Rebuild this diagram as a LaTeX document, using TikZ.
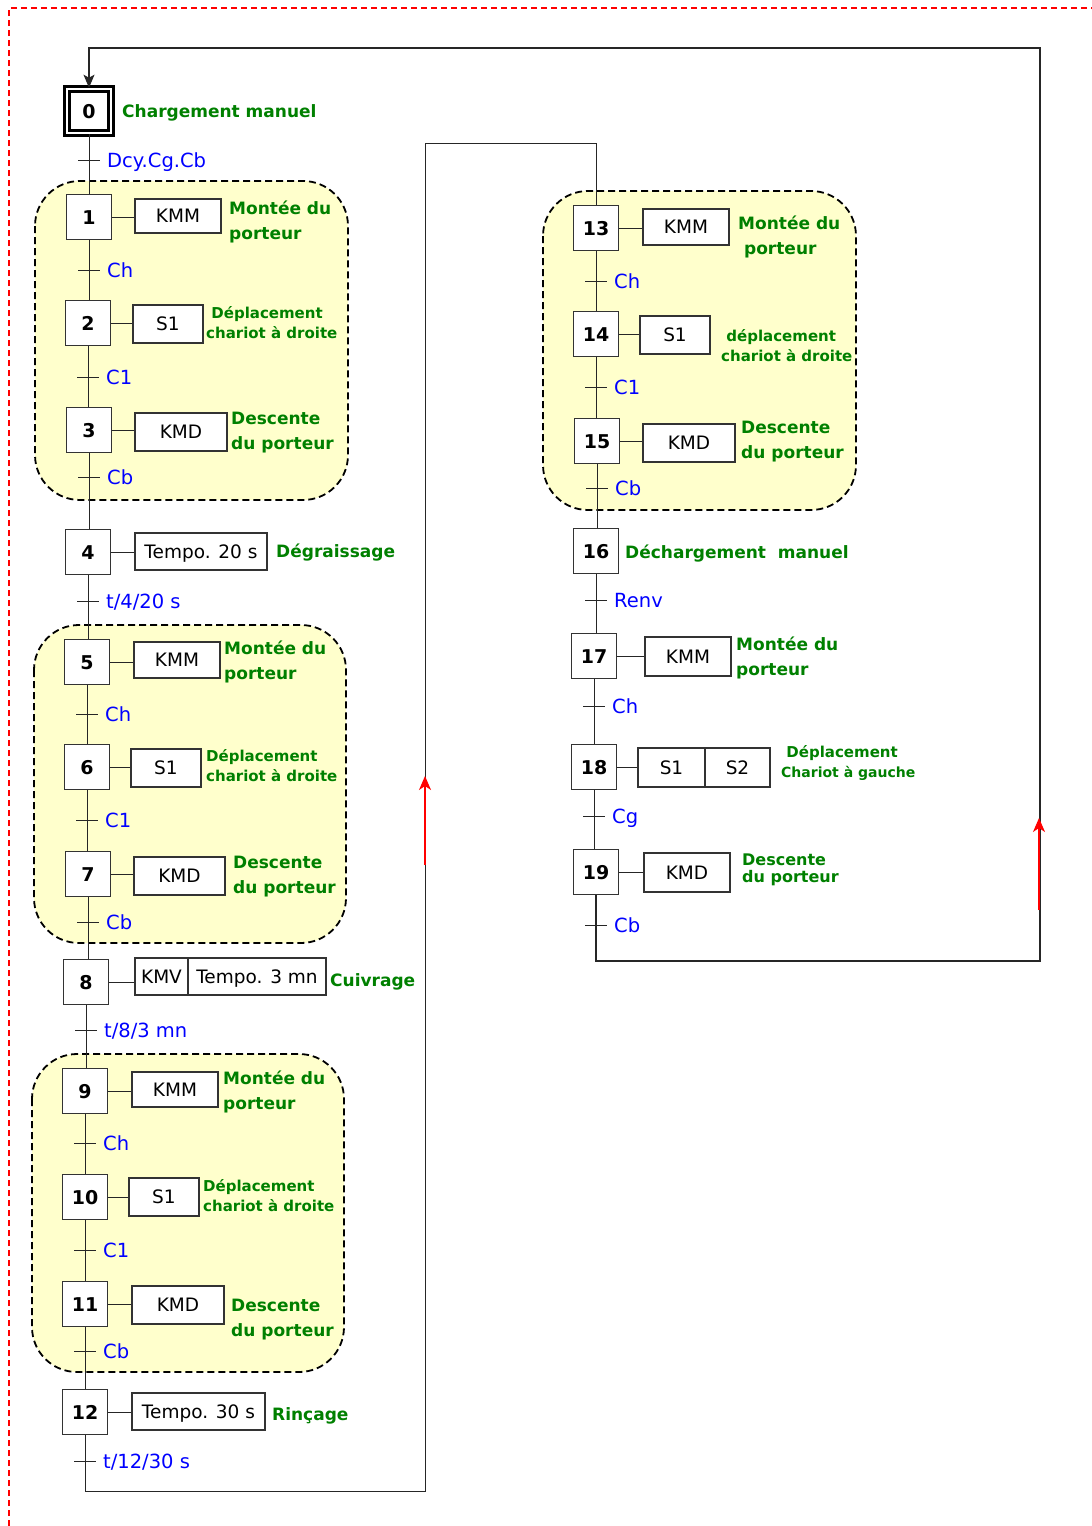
\documentclass[tikz,border=0pt]{standalone}
\usepackage{fontspec}
\setmainfont{DejaVu Sans}
\usetikzlibrary{arrows.meta,calc}
\definecolor{grn}{RGB}{0,128,0}
\definecolor{blu}{RGB}{0,0,255}
\definecolor{yel}{RGB}{255,255,204}
\newcommand{\grtr}[4]{%
  \coordinate (#1) at (#2,#3);
  \draw[link] ([xshift=-11pt]#1) -- ([xshift=11pt]#1);
  \node[blab] (#1l) at ([xshift=18pt]#1) {#4};}
\begin{document}
\begin{tikzpicture}[x=1pt,y=-1pt,
 stepbox/.style={draw=black!80, line width=1.5pt, fill=white, minimum width=45pt, minimum height=45pt, inner sep=0pt, text height=14pt, text depth=0pt, font=\fontsize{19}{20}\selectfont\bfseries},
 initstep/.style={stepbox, draw=black, line width=2.6pt, double, double distance=2.4pt, minimum width=44pt, minimum height=44pt},
 actbox/.style={draw=black!80, line width=1.3pt, fill=white, inner sep=0pt, text height=13.5pt, text depth=0pt, font=\fontsize{18.5}{20}\selectfont},
 glab/.style={text=grn, font=\fontsize{17}{25}\selectfont\bfseries, align=left, anchor=west, inner sep=0pt},
 gsmall/.style={text=grn, font=\fontsize{15}{20}\selectfont\bfseries, align=left, anchor=west, inner sep=0pt},
 blab/.style={text=blu, font=\fontsize{19.5}{20}\selectfont, anchor=west, inner sep=0pt, text height=14pt, text depth=0pt},
 link/.style={draw=black!85, line width=1pt},
 grp/.style={draw=black, dash pattern=on 7pt off 4pt, line width=1.8pt, fill=yel, rounded corners=45pt},
 redarrow/.style={draw=red, line width=1.6pt, -{Stealth[length=14pt,width=12pt,inset=4pt]}},
]
\useasboundingbox (0,0) rectangle (1092,1526);
% page frame
\draw[red, line width=1.3pt, dash pattern=on 6pt off 4pt] (9,1526) -- (9,8) -- (1092,8);

% groups
\draw[grp] (35,181) rectangle (348,500);
\draw[grp] (34,625) rectangle (346,943);
\draw[grp] (32,1054) rectangle (344,1372);
\draw[grp] (543,191) rectangle (856,510);

% steps left column
\node[initstep] (s0) at (89,111) {0};
\node[stepbox] (s1) at (89,217) {1};
\node[stepbox] (s2) at (88,323) {2};
\node[stepbox] (s3) at (89,430) {3};
\node[stepbox] (s4) at (88,552) {4};
\node[stepbox] (s5) at (87,662) {5};
\node[stepbox] (s6) at (87,767) {6};
\node[stepbox] (s7) at (88,874) {7};
\node[stepbox] (s8) at (86,982) {8};
\node[stepbox] (s9) at (85,1091) {9};
\node[stepbox] (s10) at (85,1197) {10};
\node[stepbox] (s11) at (85,1304) {11};
\node[stepbox] (s12) at (85,1412) {12};
% steps right column
\node[stepbox] (s13) at (596,228) {13};
\node[stepbox] (s14) at (596,334) {14};
\node[stepbox] (s15) at (597,441) {15};
\node[stepbox] (s16) at (596,551) {16};
\node[stepbox] (s17) at (594,656) {17};
\node[stepbox] (s18) at (594,767) {18};
\node[stepbox] (s19) at (596,872) {19};

% links between steps
\foreach \a/\b in {s0/s1,s1/s2,s2/s3,s3/s4,s4/s5,s5/s6,s6/s7,s7/s8,s8/s9,s9/s10,s10/s11,s11/s12,s13/s14,s14/s15,s15/s16,s16/s17,s17/s18,s18/s19}
  \draw[link] (\a.south) -- (\a.south |- \b.north);

% actions
\node[actbox, minimum width=86pt, minimum height=34pt] (a1) at (178,216) {KMM};
\node[actbox, minimum width=70pt, minimum height=38pt] (a2) at (168,324) {S1};
\node[actbox, minimum width=92pt, minimum height=38pt] (a3) at (181,432) {KMD};
\node[actbox, minimum width=132pt, minimum height=37pt] (a4) at (201,551.5) {Tempo. 20 s};
\node[actbox, minimum width=86pt, minimum height=36pt] (a5) at (177,660) {KMM};
\node[actbox, minimum width=70pt, minimum height=38pt] (a6) at (166,768) {S1};
\node[actbox, minimum width=91pt, minimum height=38pt] (a7) at (179.5,876) {KMD};
\node[actbox, minimum width=53pt, minimum height=37pt] (a8a) at (161.5,976.5) {KMV};
\node[actbox, minimum width=138pt, minimum height=37pt] (a8b) at (257,976.5) {Tempo. 3 mn};
\node[actbox, minimum width=86pt, minimum height=35pt] (a9) at (175,1089.5) {KMM};
\node[actbox, minimum width=70pt, minimum height=38pt] (a10) at (164,1197) {S1};
\node[actbox, minimum width=92pt, minimum height=38pt] (a11) at (178,1305) {KMD};
\node[actbox, minimum width=133pt, minimum height=37pt] (a12) at (198.5,1411.5) {Tempo. 30 s};
\node[actbox, minimum width=86pt, minimum height=36pt] (a13) at (686,227) {KMM};
\node[actbox, minimum width=70pt, minimum height=38pt] (a14) at (675,335) {S1};
\node[actbox, minimum width=92pt, minimum height=38pt] (a15) at (689,443) {KMD};
\node[actbox, minimum width=86pt, minimum height=39pt] (a17) at (688,656.5) {KMM};
\node[actbox, minimum width=67pt, minimum height=39pt] (a18a) at (671.5,767.5) {S1};
\node[actbox, minimum width=65pt, minimum height=39pt] (a18b) at (737.5,767.5) {S2};
\node[actbox, minimum width=86pt, minimum height=39pt] (a19) at (687,872.5) {KMD};

% step-to-action links
\foreach \s/\a in {s1/a1,s2/a2,s3/a3,s4/a4,s5/a5,s6/a6,s7/a7,s8/a8a,s9/a9,s10/a10,s11/a11,s12/a12,s13/a13,s14/a14,s15/a15,s17/a17,s18/a18a,s19/a19}
  \draw[link] (\s.east) -- (\s.east -| \a.west);

% green labels
\node[glab] (g0) at (122,113) {Chargement manuel};
\node[glab] (g1) at (229,222) {Montée du\\porteur};
\node[gsmall] (g2) at (206,323) {\ Déplacement\\chariot à droite};
\node[glab] (g3) at (231,433) {Descente\\du porteur};
\node[glab] (g4) at (276,553) {Dégraissage};
\node[glab] (g5) at (224,662) {Montée du\\porteur};
\node[gsmall] (g6) at (206,766) {Déplacement\\chariot à droite};
\node[glab] (g7) at (233,877) {Descente\\du porteur};
\node[glab] (g8) at (330,982) {Cuivrage};
\node[glab] (g9) at (223,1092) {Montée du\\porteur};
\node[gsmall] (g10) at (203,1196) {Déplacement\\chariot à droite};
\node[glab] (g11) at (231,1320) {Descente\\du porteur};
\node[glab] (g12) at (272,1416) {Rinçage};
\node[glab] (g13) at (738,237) {Montée du\\\ porteur};
\node[gsmall] (g14) at (721,346) {\ déplacement\\chariot à droite};
\node[glab] (g15) at (741,442) {Descente\\du porteur};
\node[glab] (g16) at (625,554) {Déchargement~ manuel};
\node[glab] (g17) at (736,658) {Montée du\\porteur};
\node[gsmall] (g18) at (781,763) {\ Déplacement\\{\fontsize{14}{20}\selectfont Chariot à gauche}};
\node[glab, font=\fontsize{16}{17}\selectfont\bfseries] (g19) at (742,870) {Descente\\du porteur};

% transitions
\grtr{t0}{89}{160}{Dcy.Cg.Cb}
\grtr{t1}{89}{270}{Ch}
\grtr{t2}{88}{377}{C1}
\grtr{t3}{89}{477}{Cb}
\grtr{t4}{88}{601}{t/4/20 s}
\grtr{t5}{87}{714}{Ch}
\grtr{t6}{87}{820}{C1}
\grtr{t7}{88}{922}{Cb}
\grtr{t8}{86}{1030}{t/8/3 mn}
\grtr{t9}{85}{1143}{Ch}
\grtr{t10}{85}{1250}{C1}
\grtr{t11}{85}{1351}{Cb}
\grtr{t12}{85}{1461}{t/12/30 s}
\grtr{t13}{596}{281}{Ch}
\grtr{t14}{596}{387}{C1}
\grtr{t15}{597}{488}{Cb}
\grtr{t16}{596}{600}{Renv}
\grtr{t17}{594}{706}{Ch}
\grtr{t18}{594}{816}{Cg}
\grtr{t19}{596}{925}{Cb}

% return / jump links
\coordinate (e12) at (85,1491);
\coordinate (j1) at (425,143);
\draw[link] (s12.south) -- (e12) -| (j1) -| (s13.north);
\coordinate (e19) at (596,961);
\coordinate (j2) at (1040,48);
\draw[link, line width=1.4pt, -{Stealth[length=13pt,width=11pt,inset=3pt]}] (s19.south) -- (e19) -| (j2) -| (s0.north);

% red direction arrows
\coordinate (ra1s) at (425,865);
\coordinate (ra1e) at (425,776);
\draw[redarrow] (ra1s) -- (ra1e);
\coordinate (ra2s) at (1039,910);
\coordinate (ra2e) at (1039,818);
\draw[redarrow] (ra2s) -- (ra2e);
\end{tikzpicture}
\end{document}
